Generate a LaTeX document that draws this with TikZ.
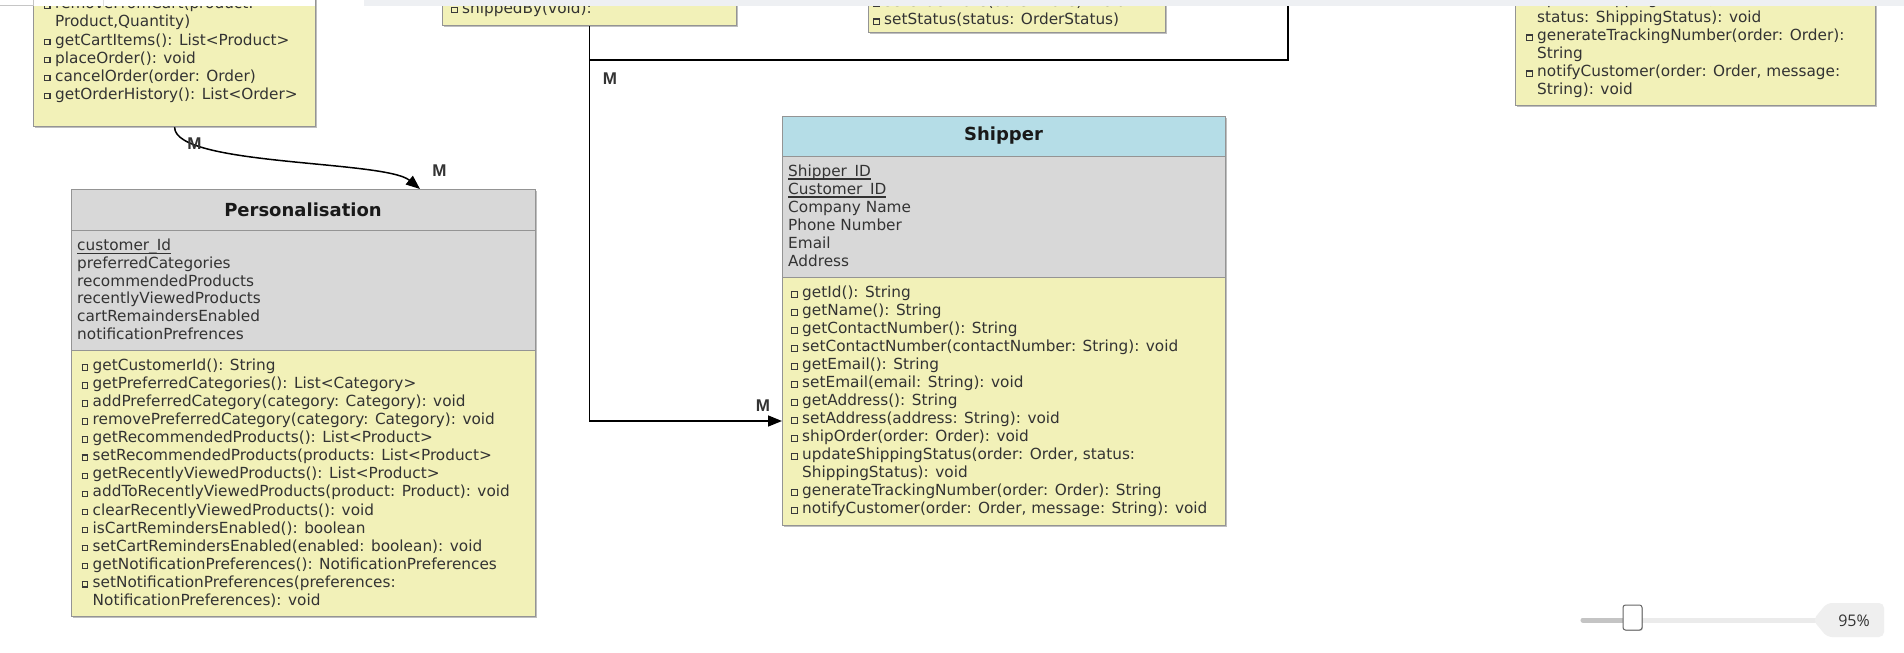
\documentclass[tikz,border=0pt]{standalone}
\usepackage{fontspec}
\setmainfont{DejaVu Sans}
\newfontfamily\labfont{Liberation Sans}
\newfontfamily\uifont{Open Sans}
\usetikzlibrary{arrows.meta,calc,shadows}
\definecolor{yel}{HTML}{F2F1B8}
\definecolor{attrc}{HTML}{D8D8D8}
\definecolor{hblue}{HTML}{B5DDE7}
\definecolor{bord}{HTML}{949494}
\definecolor{txtc}{HTML}{333333}
\definecolor{bulc}{HTML}{3A3A3A}
\definecolor{barc}{HTML}{EEF0F3}
\definecolor{trackl}{HTML}{EBEBEB}
\definecolor{trackd}{HTML}{C4C4C4}
\definecolor{lblc}{HTML}{EFEFEF}
\newcommand\mb{\llap{{\color{bulc}\setlength\fboxsep{0pt}\setlength\fboxrule{1.1pt}\raisebox{0.9pt}{\fbox{\rule{0pt}{4.4pt}\rule{4.4pt}{0pt}}}}\hspace{4.6pt}}}
\newcommand\ulin[1]{\setbox0=\hbox{#1}\rlap{\rule[-3.5pt]{\wd0}{1.4pt}}\box0}
\tikzset{
  cls/.style={draw=bord, line width=1.2pt, inner sep=0pt, anchor=north west,
    drop shadow={shadow xshift=1.2pt, shadow yshift=-1.2pt, opacity=0.25, fill=black}},
  tl/.style={inner sep=0pt, anchor=base west, text=txtc, font=\fontsize{15.3}{18}\selectfont},
  ttl/.style={inner sep=0pt, text=black!90, font=\bfseries\fontsize{18}{20}\selectfont},
  mlab/.style={inner sep=0pt, text=txtc, font=\labfont\bfseries\fontsize{17}{18}\selectfont},
  conn/.style={line width=1.5pt, draw=black},
  arr/.style={-{Triangle[length=14pt,width=11pt]}}
}
\begin{document}
\begin{tikzpicture}[x=1pt,y=-1pt]
\useasboundingbox (0,0) rectangle (1904,653);
\fill[white] (0,0) rectangle (1904,653);

% ---------- top-left class (order) ----------
\node[cls, fill=yel, minimum width=282pt, minimum height=136pt] (order) at (33,-10) {};
\foreach [count=\i] \t in {{\mb removeFromCart(product:},{Product,Quantity)},{\mb getCartItems(): List<Product>},{\mb placeOrder(): void},{\mb cancelOrder(order: Order)},{\mb getOrderHistory(): List<Order>}}
  \node[tl] (om\i) at (55,{9+18*(\i-1)}) {\t};

% ---------- shippedBy class ----------
\node[cls, fill=yel, minimum width=294pt, minimum height=35pt] (shipby) at (442,-10) {};
\node[tl] (sb1) at (462,13) {\mb shippedBy(void):};

% ---------- order status class ----------
\node[cls, fill=yel, minimum width=297pt, minimum height=42pt] (ostat) at (868,-10) {};
\node[tl] (os1) at (884,6.8) {\mb setOrderDate(date: Date): void};
\node[tl] (os2) at (884,24.8) {\mb setStatus(status: OrderStatus)};

% ---------- top-right class ----------
\node[cls, fill=yel, minimum width=360pt, minimum height=115pt] (track) at (1515,-10) {};
\foreach [count=\i] \t in {{\mb updateShippingStatus(order: Order,},{status: ShippingStatus): void},{\mb generateTrackingNumber(order: Order):},{String},{\mb notifyCustomer(order: Order, message:},{String): void}}
  \node[tl] (tr\i) at (1537,{4.8+18*(\i-1)}) {\t};

% ---------- Personalisation ----------
\node[cls, fill=attrc, minimum width=464pt, minimum height=41pt] (persH) at (71,189) {};
\node[cls, fill=attrc, minimum width=464pt, minimum height=120pt] (persA) at (71,230) {};
\node[cls, fill=yel, minimum width=464pt, minimum height=266pt] (persM) at (71,350) {};
\node[ttl] (persT) at (303,209.5) {Personalisation};
\foreach [count=\i] \t in {{\ulin{customer\_Id}},preferredCategories,recommendedProducts,recentlyViewedProducts,cartRemaindersEnabled,notificationPrefrences}
  \node[tl] (pa\i) at (77,{250.6+17.7*(\i-1)}) {\t};
\foreach [count=\i] \t in {{\mb getCustomerId(): String},{\mb getPreferredCategories(): List<Category>},{\mb addPreferredCategory(category: Category): void},{\mb removePreferredCategory(category: Category): void},{\mb getRecommendedProducts(): List<Product>},{\mb setRecommendedProducts(products: List<Product>},{\mb getRecentlyViewedProducts(): List<Product>},{\mb addToRecentlyViewedProducts(product: Product): void},{\mb clearRecentlyViewedProducts(): void},{\mb isCartRemindersEnabled(): boolean},{\mb setCartRemindersEnabled(enabled: boolean): void},{\mb getNotificationPreferences(): NotificationPreferences},{\mb setNotificationPreferences(preferences:},{NotificationPreferences): void}}
  \node[tl] (pm\i) at (92.5,{370.5+18.07*(\i-1)}) {\t};

% ---------- Shipper ----------
\node[cls, fill=hblue, minimum width=443pt, minimum height=40pt] (shipH) at (782,116) {};
\node[cls, fill=attrc, minimum width=443pt, minimum height=121pt] (shipA) at (782,156) {};
\node[cls, fill=yel, minimum width=443pt, minimum height=248pt] (shipM) at (782,277) {};
\node[ttl] (shipT) at (1003.5,136) {Shipper};
\foreach [count=\i] \t in {{\ulin{Shipper\_ID}},{\ulin{Customer\_ID}},Company Name,Phone Number,Email,Address}
  \node[tl] (sa\i) at (788,{176.2+18.05*(\i-1)}) {\t};
\foreach [count=\i] \t in {{\mb getId(): String},{\mb getName(): String},{\mb getContactNumber(): String},{\mb setContactNumber(contactNumber: String): void},{\mb getEmail(): String},{\mb setEmail(email: String): void},{\mb getAddress(): String},{\mb setAddress(address: String): void},{\mb shipOrder(order: Order): void},{\mb updateShippingStatus(order: Order, status:},{ShippingStatus): void},{\mb generateTrackingNumber(order: Order): String},{\mb notifyCustomer(order: Order, message: String): void}}
  \node[tl] (sm\i) at (802,{297.4+18.02*(\i-1)}) {\t};

% ---------- connectors ----------
\coordinate (topend) at (1288,-10);
\draw[conn] (topend) |- ($(shipby.south)+(0,34)$);
\draw[conn, arr] (shipby.south) |- ($(shipM.north west)+(0,144)$);
\draw[conn, arr] (order.south) .. controls ($(order.south)+(0,39)$) and (385,160) .. ($(persH.north west)+(349,0)$);

\node[mlab] (m1) at (194.5,143.5) {M};
\node[mlab] (m2) at (439.5,171) {M};
\node[mlab] (m3) at (610,79) {M};
\node[mlab] (m4) at (763,405.5) {M};

% ---------- top toolbar remnants ----------
\fill[barc] (364,0) rectangle (1904,6);
\fill[white] (0,0) rectangle (315,5.5);
\draw[gray!45, line width=0.8pt] (0,5.2) -- (33,5.2) -- (33,0);
\draw[gray!25, line width=0.8pt] (103,0) -- (103,5.5);

% ---------- zoom slider ----------
\draw[trackl, line width=5pt, line cap=round] (1583,620) -- (1815,620);
\draw[trackd, line width=5pt, line cap=round] (1583,620) -- (1630,620);
\draw[draw=gray!80!black, fill=white, line width=1pt, rounded corners=2.5pt,
  drop shadow={shadow xshift=0.8pt, shadow yshift=-0.8pt, opacity=0.25, fill=black}] (1623,605) rectangle (1642,630);
\fill[lblc, rounded corners=5pt] (1813,620) -- (1827,603) -- (1884,603) -- (1884,637) -- (1827,637) -- cycle;
\node[inner sep=0pt, text=txtc, font=\uifont\fontsize{16}{18}\selectfont] (zoomlbl) at (1854,620.5) {95\%};
\end{tikzpicture}
\end{document}
